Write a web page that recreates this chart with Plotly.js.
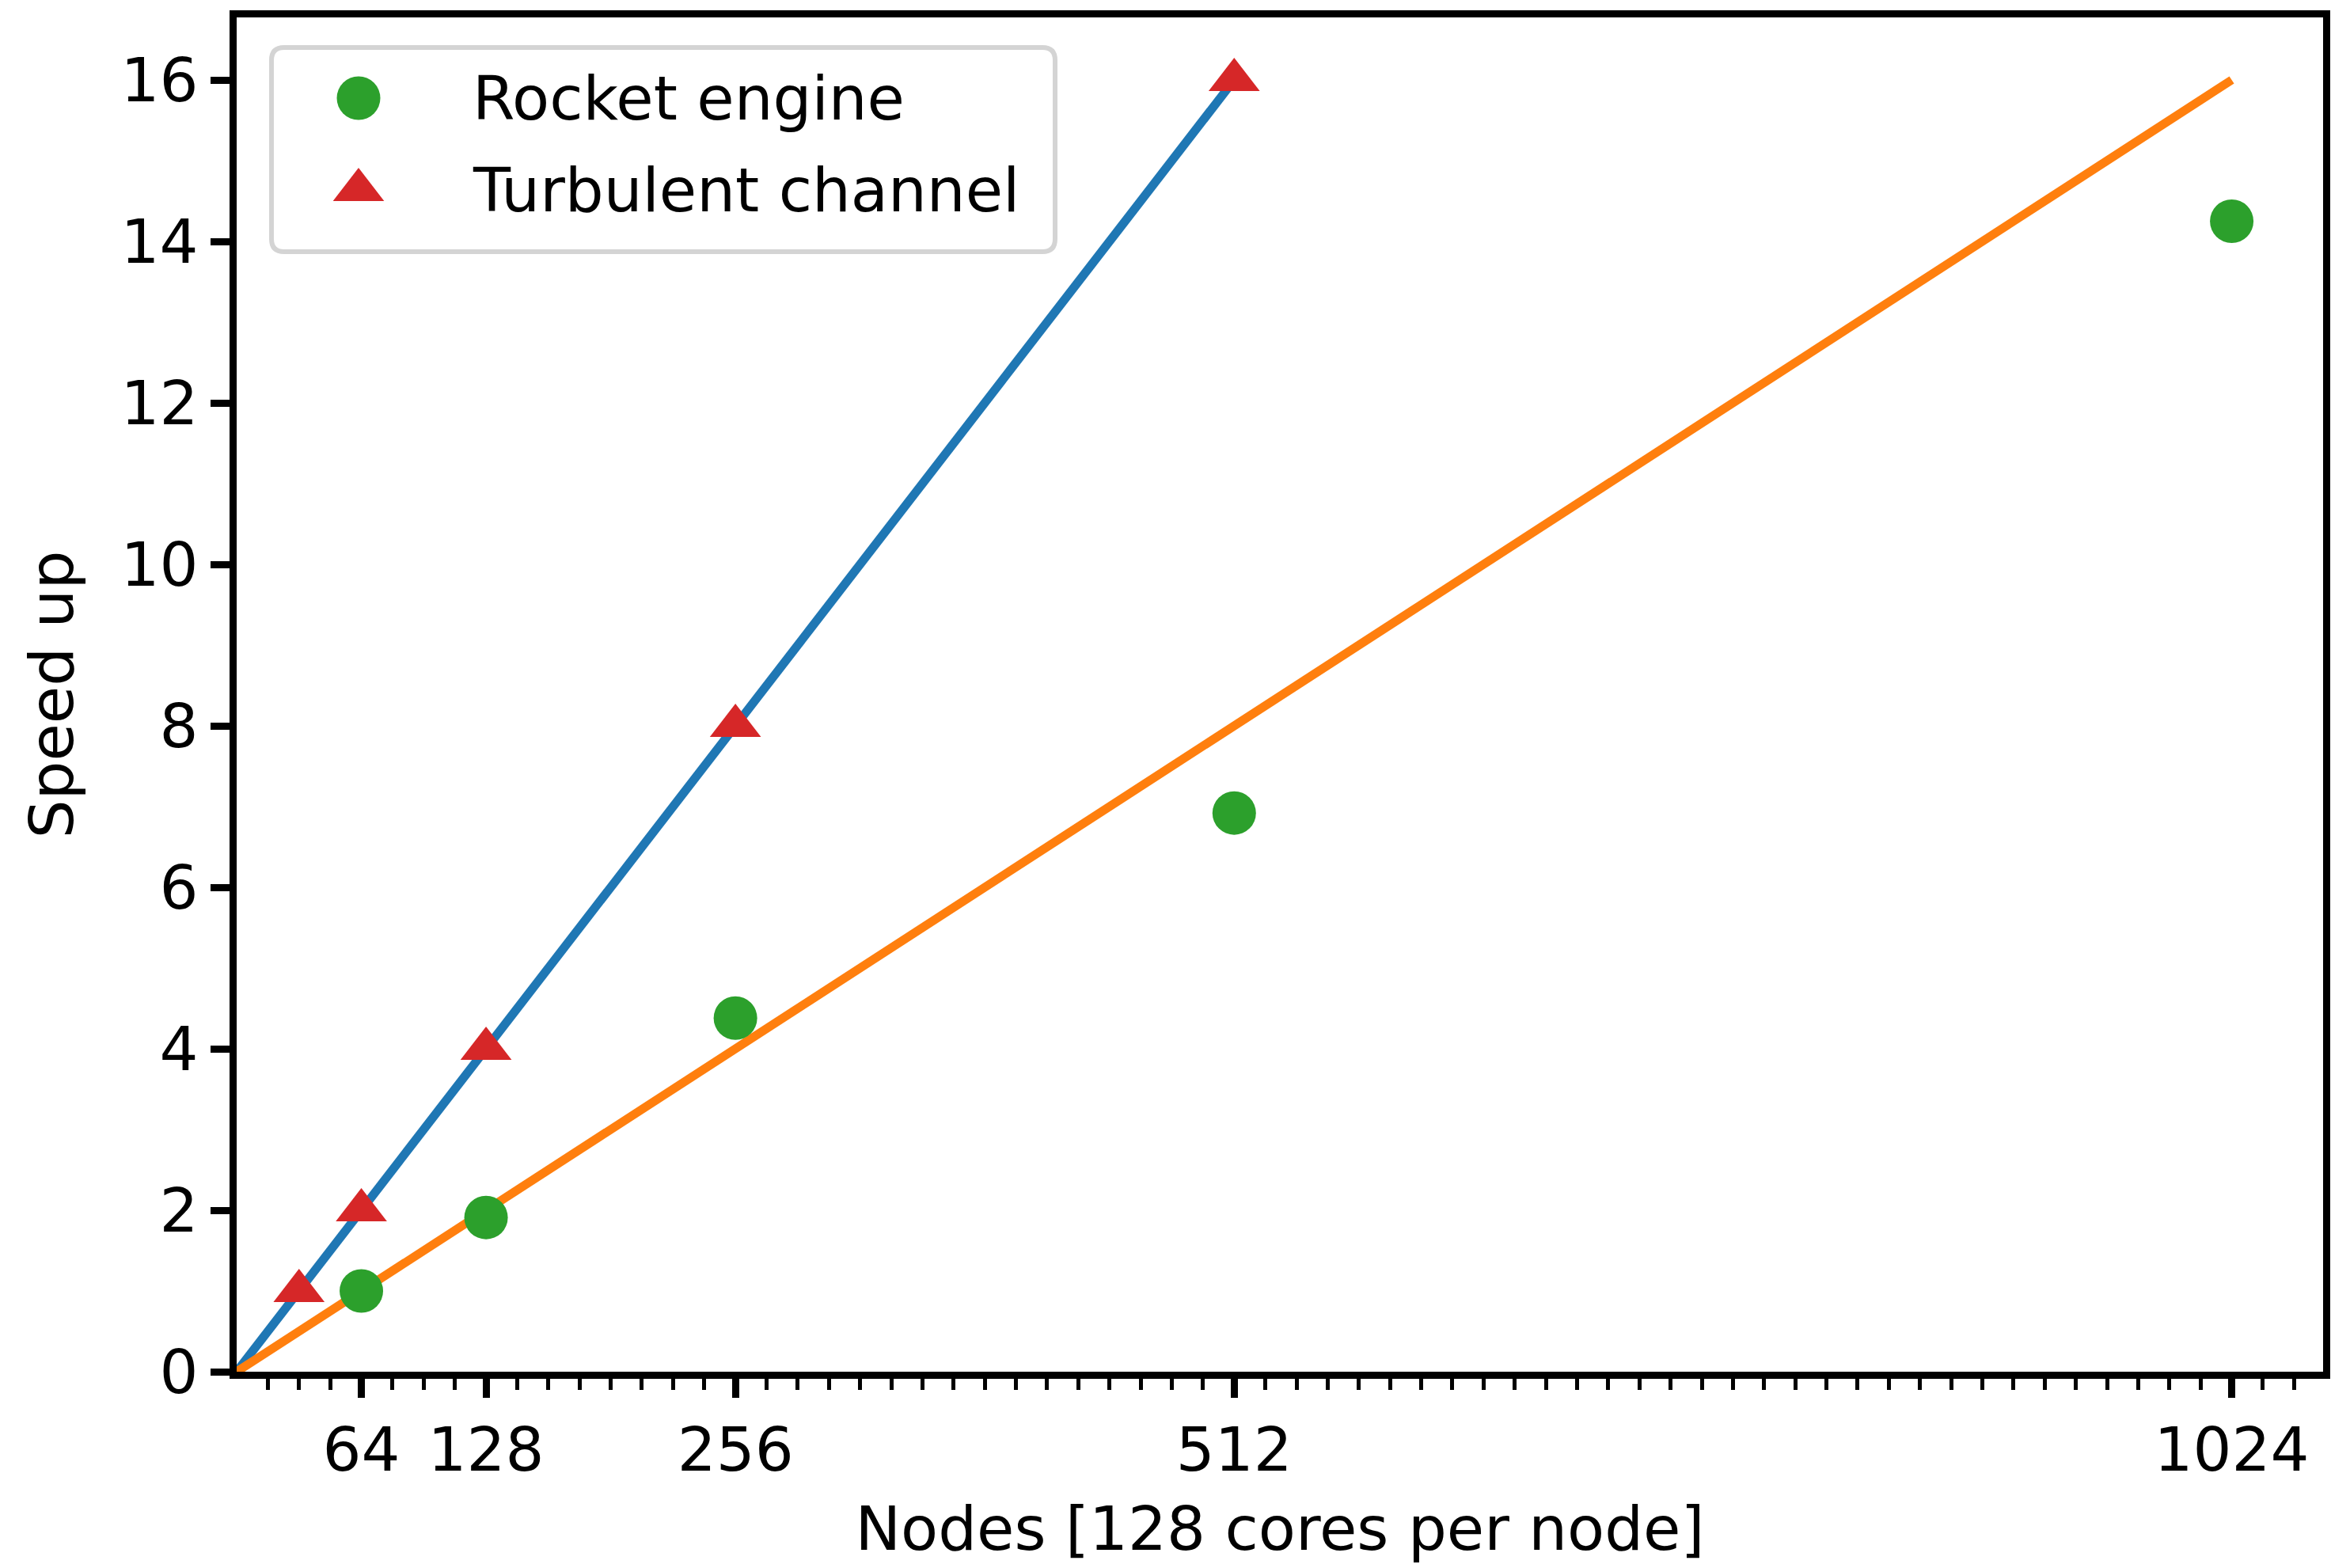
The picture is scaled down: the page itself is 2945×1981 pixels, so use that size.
<!DOCTYPE html>
<html>
<head>
<meta charset="utf-8">
<script src="https://cdn.plot.ly/plotly-3.0.1.min.js"></script>
<style>
  html, body { margin: 0; padding: 0; background: #ffffff; }
  #chart { width: 2945px; height: 1981px; }
</style>
</head>
<body>
<div id="chart"></div>
<script>
// Strong-scaling results: speed-up versus node count (128 cores per node)
const seriesNames = ['Rocket engine', 'Turbulent channel'];

const nodesRocket = [64, 128, 256, 512, 1024];
const speedupRocket = [1.0, 1.91, 4.38, 6.92, 14.25];

const nodesTurb = [32, 64, 128, 256, 512];
const speedupTurb = [1, 2, 4, 8, 16];

// Ideal linear scaling references
const idealTurbNodes = [0, 512];
const idealTurbSpeedup = [0, 16];
const idealRocketNodes = [0, 1024];
const idealRocketSpeedup = [0, 16];

const xTickVals = [64, 128, 256, 512, 1024];
const yTickVals = [0, 2, 4, 6, 8, 10, 12, 14, 16];
const xMinorStep = 16;

const xTitle = 'Nodes [128 cores per node]';
const yTitle = 'Speed up';

// Page geometry (pixels)
const W = 2945, H = 1981;
const M = { l: 299, r: 10, t: 22, b: 248 };
const xScale = 2.4615; // pixels per node
const yScale = 102;    // pixels per unit of speed-up

const plotLeft = M.l, plotRight = W - M.r, plotTop = M.t, plotBottom = H - M.b;
const xRange = [0, (plotRight - plotLeft) / xScale];
const yRange = [0, (plotBottom - plotTop) / yScale];

// Minor ticks every 16 nodes inside the axis, skipping the origin and major ticks
const xMinorVals = [];
for (let v = xMinorStep; v <= xRange[1]; v += xMinorStep) {
  if (xTickVals.indexOf(v) === -1) xMinorVals.push(v);
}

const FONT = 'DejaVu Sans, Liberation Sans, sans-serif';
const FS = 77;
const C = { blue: '#1f77b4', orange: '#ff7f0e', green: '#2ca02c', red: '#d62728' };
const circleSize = 55, triSize = 56, lineW = 11;

const traces = [
  { x: idealTurbNodes, y: idealTurbSpeedup, mode: 'lines', type: 'scatter',
    line: { color: C.blue, width: lineW }, showlegend: false, hoverinfo: 'skip' },
  { x: idealRocketNodes, y: idealRocketSpeedup, mode: 'lines', type: 'scatter',
    line: { color: C.orange, width: lineW }, showlegend: false, hoverinfo: 'skip' },
  { x: nodesRocket, y: speedupRocket, mode: 'markers', type: 'scatter', name: seriesNames[0],
    marker: { symbol: 'circle', size: circleSize, color: C.green, line: { width: 0 } },
    showlegend: false, cliponaxis: false },
  { x: nodesTurb, y: speedupTurb, mode: 'markers', type: 'scatter', name: seriesNames[1],
    marker: { symbol: 'triangle-up', size: triSize, color: C.red, line: { width: 0 } },
    showlegend: false, cliponaxis: false }
];

// Legend drawn on a hidden overlay axis measured in page pixels
const legendBox = { x0: 343, x1: 1333, y0: 60, y1: 318, r: 16 };
const legendKeyX = 453, legendTextX = 595, legendRowY = [124, 240];
const legendSymbols = [
  { symbol: 'circle', size: circleSize, color: C.green },
  { symbol: 'triangle-up', size: triSize, color: C.red }
];
legendSymbols.forEach(function (s, i) {
  traces.push({
    x: [legendKeyX], y: [legendRowY[i]], xaxis: 'x2', yaxis: 'y2',
    mode: 'markers', type: 'scatter', showlegend: false, hoverinfo: 'skip',
    marker: { symbol: s.symbol, size: s.size, color: s.color, line: { width: 0 } }
  });
});

function roundedRect(b) {
  const r = b.r;
  return 'M' + (b.x0 + r) + ',' + b.y0 +
    ' L' + (b.x1 - r) + ',' + b.y0 + ' Q' + b.x1 + ',' + b.y0 + ' ' + b.x1 + ',' + (b.y0 + r) +
    ' L' + b.x1 + ',' + (b.y1 - r) + ' Q' + b.x1 + ',' + b.y1 + ' ' + (b.x1 - r) + ',' + b.y1 +
    ' L' + (b.x0 + r) + ',' + b.y1 + ' Q' + b.x0 + ',' + b.y1 + ' ' + b.x0 + ',' + (b.y1 - r) +
    ' L' + b.x0 + ',' + (b.y0 + r) + ' Q' + b.x0 + ',' + b.y0 + ' ' + (b.x0 + r) + ',' + b.y0 + ' Z';
}

const axisCommon = {
  showgrid: false, zeroline: false, showline: true, linecolor: '#000000', linewidth: 9,
  mirror: true, ticks: 'outside', ticklen: 24, tickwidth: 9, tickcolor: '#000000',
  tickfont: { family: FONT, size: FS, color: '#000000' }
};

const layout = {
  width: W, height: H,
  margin: M,
  paper_bgcolor: '#ffffff', plot_bgcolor: '#ffffff',
  showlegend: false,
  font: { family: FONT, size: FS, color: '#000000' },
  xaxis: Object.assign({}, axisCommon, {
    range: xRange, tickmode: 'array', tickvals: xTickVals, ticktext: xTickVals.map(String),
    minor: { tickmode: 'array', tickvals: xMinorVals, ticks: 'outside', ticklen: 14, tickwidth: 5, tickcolor: '#000000', showgrid: false },
    title: { text: xTitle, font: { family: FONT, size: FS, color: '#000000' }, standoff: 32 }
  }),
  yaxis: Object.assign({}, axisCommon, {
    range: yRange, tickmode: 'array', tickvals: yTickVals, ticktext: yTickVals.map(String),
    title: { text: yTitle, font: { family: FONT, size: FS, color: '#000000' }, standoff: 38 }
  }),
  xaxis2: { overlaying: 'x', range: [plotLeft, plotRight], visible: false, fixedrange: true },
  yaxis2: { overlaying: 'y', range: [plotBottom, plotTop], visible: false, fixedrange: true },
  shapes: [{
    type: 'path', xref: 'x2', yref: 'y2', path: roundedRect(legendBox),
    fillcolor: 'rgba(255,255,255,0.8)', line: { color: '#d4d4d4', width: 6 }, layer: 'below'
  }],
  annotations: seriesNames.map(function (name, i) {
    return {
      xref: 'x2', yref: 'y2', x: legendTextX, y: legendRowY[i], text: name,
      xanchor: 'left', yanchor: 'middle', showarrow: false,
      font: { family: FONT, size: FS, color: '#000000' }
    };
  })
};

Plotly.newPlot('chart', traces, layout, { staticPlot: true, displayModeBar: false });
</script>
</body>
</html>
